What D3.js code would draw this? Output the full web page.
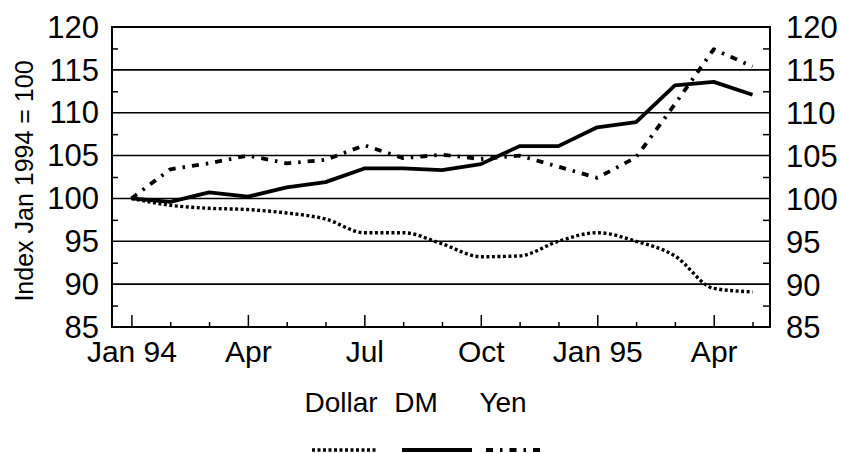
<!DOCTYPE html>
<html>
<head>
<meta charset="utf-8">
<script src="https://cdn.jsdelivr.net/npm/d3@7"></script>
<style>
  html, body { margin: 0; padding: 0; background: #fff; }
  svg { display: block; }
  text { font-family: "Liberation Sans", Arial, sans-serif; fill: #000; }
</style>
</head>
<body>
<svg id="chart" width="841" height="453"></svg>
<script>
// ---- data (monthly, Jan 1994 = 100) ----
const months = ["Jan 94","Feb","Mar","Apr","May","Jun","Jul","Aug","Sep","Oct","Nov","Dec","Jan 95","Feb","Mar","Apr","May"];
const dollar = [100, 99.2, 98.85, 98.7, 98.3, 97.6, 96.0, 96.0, 94.7, 93.2, 93.3, 95.0, 96.0, 95.0, 93.3, 89.5, 89.1];
const dm     = [100, 99.6, 100.7, 100.2, 101.3, 101.9, 103.5, 103.5, 103.3, 104.0, 106.1, 106.1, 108.3, 108.9, 113.2, 113.6, 112.1];
const yen    = [100, 103.4, 104.1, 105.0, 104.1, 104.5, 106.2, 104.7, 105.1, 104.6, 105.0, 103.7, 102.4, 104.8, 111.0, 117.4, 115.4];
const xTickLabels = {0: "Jan 94", 3: "Apr", 6: "Jul", 9: "Oct", 12: "Jan 95", 15: "Apr"};
const yTicks = [85, 90, 95, 100, 105, 110, 115, 120];
const yMinorTicks = [87.5, 92.5, 97.5, 102.5, 107.5, 112.5, 117.5];
const seriesNames = ["Dollar", "DM", "Yen"];

const svg = d3.select("#chart");
const L = 112, R = 770, T = 27, B = 327;

const x = d3.scaleLinear().domain([-0.5, 16.45]).range([L, R]);
const y = d3.scaleLinear().domain([85, 120]).range([B, T]);

// gridlines
svg.append("g").selectAll("line")
  .data([90, 95, 100, 105, 110, 115])
  .join("line")
  .attr("x1", L).attr("x2", R)
  .attr("y1", d => y(d)).attr("y2", d => y(d))
  .attr("stroke", "#000").attr("stroke-width", 1.6);

// left axis labels
const gl = svg.append("g").attr("transform", `translate(${L},0)`)
  .call(d3.axisLeft(y).tickValues(yTicks).tickSize(0).tickPadding(13).tickFormat(d3.format("d")));
gl.select(".domain").remove();
gl.selectAll("text").style("font-size", "31px").attr("dy", "0.33em");

// right axis labels
const gr = svg.append("g").attr("transform", `translate(${R},0)`)
  .call(d3.axisRight(y).tickValues(yTicks).tickSize(0).tickPadding(16).tickFormat(d3.format("d")));
gr.select(".domain").remove();
gr.selectAll("text").style("font-size", "31px").attr("dy", "0.35em");

// inward minor ticks left & right
const gml = svg.append("g").attr("transform", `translate(${L},0)`)
  .call(d3.axisRight(y).tickValues(yMinorTicks).tickSize(6).tickFormat(""));
gml.select(".domain").remove();
gml.selectAll("line").attr("stroke-width", 1.5);
const gmr = svg.append("g").attr("transform", `translate(${R},0)`)
  .call(d3.axisLeft(y).tickValues(yMinorTicks).tickSize(7).tickFormat(""));
gmr.select(".domain").remove();
gmr.selectAll("line").attr("stroke-width", 1.5);

// x axis: inward ticks
const idx = d3.range(months.length);
const gxMaj = svg.append("g").attr("transform", `translate(0,${B})`)
  .call(d3.axisTop(x).tickValues(idx.filter(i => i % 3 === 0)).tickSize(12).tickFormat(""));
gxMaj.select(".domain").remove();
gxMaj.selectAll("line").attr("stroke-width", 1.5);
const gxMin = svg.append("g").attr("transform", `translate(0,${B})`)
  .call(d3.axisTop(x).tickValues(idx.filter(i => i % 3 !== 0)).tickSize(5).tickFormat(""));
gxMin.select(".domain").remove();
gxMin.selectAll("line").attr("stroke-width", 1.5);

// x labels
const gxl = svg.append("g").attr("transform", `translate(0,${B})`)
  .call(d3.axisBottom(x).tickValues(Object.keys(xTickLabels).map(Number)).tickSize(0).tickPadding(14)
    .tickFormat(d => xTickLabels[d]));
gxl.select(".domain").remove();
gxl.selectAll("text").style("font-size", "30px");

// border
svg.append("rect").attr("x", L).attr("y", T).attr("width", R - L).attr("height", B - T)
  .attr("fill", "none").attr("stroke", "#000").attr("stroke-width", 2);

// y axis title
svg.append("text")
  .attr("transform", `translate(33,181) rotate(-90)`)
  .attr("text-anchor", "middle")
  .style("font-size", "25px")
  .text("Index Jan 1994 = 100");

// lines
const styles = {
  Dollar: { data: dollar, width: 3.4, dash: "3,2.5", curve: d3.curveMonotoneX },
  DM:     { data: dm,     width: 3.8, dash: null,    curve: d3.curveLinear },
  Yen:    { data: yen,    width: 3.8, dash: "7,7,2.5,7", curve: d3.curveLinear }
};
seriesNames.forEach(name => {
  const s = styles[name];
  const line = d3.line().x((d, i) => x(i)).y(d => y(d)).curve(s.curve);
  svg.append("path").datum(s.data)
    .attr("d", line)
    .attr("fill", "none").attr("stroke", "#000")
    .attr("stroke-width", s.width)
    .attr("stroke-linejoin", "round")
    .attr("stroke-dasharray", s.dash);
});

// legend
const legendText = [{n: "Dollar", cx: 341}, {n: "DM", cx: 416}, {n: "Yen", cx: 503}];
svg.append("g").selectAll("text").data(legendText).join("text")
  .attr("x", d => d.cx).attr("y", 412)
  .attr("text-anchor", "middle").style("font-size", "28px")
  .text(d => d.n);
const legendSym = [{n: "Dollar", x1: 312, x2: 378}, {n: "DM", x1: 402, x2: 472}, {n: "Yen", x1: 486, x2: 540}];
svg.append("g").selectAll("line").data(legendSym).join("line")
  .attr("x1", d => d.x1).attr("x2", d => d.x2)
  .attr("y1", 450).attr("y2", 450)
  .attr("stroke", "#000")
  .attr("stroke-width", d => styles[d.n].width)
  .attr("stroke-dasharray", d => styles[d.n].dash);
</script>
</body>
</html>
